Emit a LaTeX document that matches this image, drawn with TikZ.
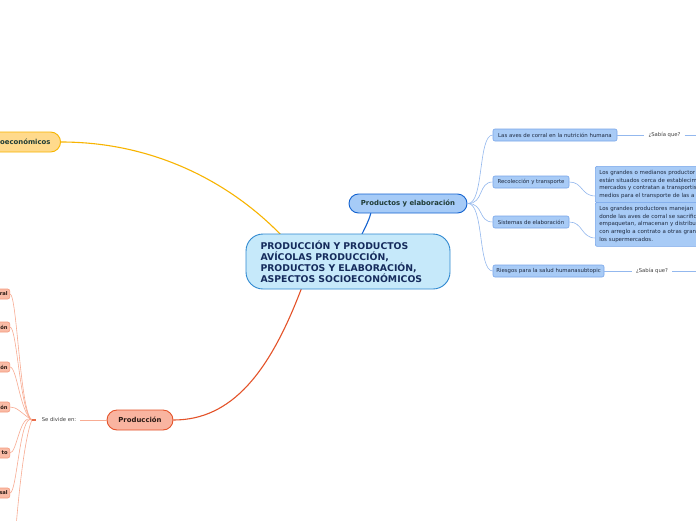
\documentclass[tikz,border=0pt]{standalone}
\usepackage{fontspec}
\setmainfont{DejaVu Sans}
\usetikzlibrary{backgrounds}
\definecolor{cFill}{HTML}{C6E9FA}
\definecolor{cBorder}{HTML}{2E88D0}
\definecolor{cText}{HTML}{152B5C}
\definecolor{yFill}{HTML}{FFDA8C}
\definecolor{yBorder}{HTML}{F7B500}
\definecolor{yLine}{HTML}{F8B400}
\definecolor{gText}{HTML}{1F3B35}
\definecolor{bFill}{HTML}{A6CBF7}
\definecolor{bBorder}{HTML}{1463D0}
\definecolor{rFill}{HTML}{F9B4A0}
\definecolor{rBorder}{HTML}{E4532A}
\definecolor{rText}{HTML}{2A1A14}
\definecolor{sFill}{HTML}{A8CBF6}
\definecolor{sBorder}{HTML}{78A6EA}
\definecolor{sText}{HTML}{1E2A40}
\definecolor{sLine}{HTML}{93B8EE}
\definecolor{lFill}{HTML}{F9BBA6}
\definecolor{lBorder}{HTML}{F59A7E}
\definecolor{lLine}{HTML}{F8AC93}
\tikzset{
  central/.style={draw=cBorder, fill=cFill, line width=0.9pt, rounded corners=17pt,
    minimum height=55pt, text width=175pt, inner xsep=14.5pt, align=left,
    font=\bfseries\fontsize{9.3}{11}\selectfont, text=cText},
  mainnode/.style={line width=0.9pt, font=\bfseries\fontsize{6.9}{8}\selectfont, inner sep=0pt},
  subnode/.style={draw=sBorder, fill=sFill, line width=0.6pt, rounded corners=2pt,
    minimum height=12pt, inner sep=0pt, font=\fontsize{5.4}{6}\selectfont, text=sText},
  textbox/.style={draw=sBorder, fill=sFill, line width=0.6pt, rounded corners=2pt,
    anchor=north west, text width=130pt, inner sep=4pt, align=left,
    font=\fontsize{5.5}{7.7}\selectfont, text=sText},
  leftnode/.style={draw=lBorder, fill=lFill, line width=0.6pt, rounded corners=2pt,
    anchor=east, minimum height=10pt, text width=60pt, align=right, inner xsep=2pt, inner ysep=0pt,
    font=\bfseries\fontsize{5.2}{6}\selectfont, text=rText},
  smalltext/.style={font=\fontsize{5.3}{6}\selectfont, text=black!75, inner sep=1pt},
  sline/.style={draw=sLine, line width=0.6pt},
  lline/.style={draw=lLine, line width=0.6pt},
}
\begin{document}
\begin{tikzpicture}[x=1pt,y=-1pt]
\useasboundingbox (0,0) rectangle (696,520);

% central node
\node[central] (center) at (348,261.5) {PRODUCCIÓN Y PRODUCTOS\\AVÍCOLAS PRODUCCIÓN,\\PRODUCTOS Y ELABORACIÓN,\\ASPECTOS SOCIOECONÓMICOS};

% yellow node (cut at the left edge)
\node[mainnode, draw=yBorder, fill=yFill, text=gText, rounded corners=10pt, minimum height=20pt,
  text width=70pt, align=right, inner xsep=10pt, anchor=east] (aspectos) at (61,142) {oeconómicos};

% productos node
\node[mainnode, draw=bBorder, fill=bFill, text=gText, rounded corners=9.5pt, minimum height=19pt,
  minimum width=118pt] (productos) at (408,203.5) {Productos y elaboración};

% produccion node
\node[mainnode, draw=rBorder, fill=rFill, text=rText, rounded corners=10pt, minimum height=20pt,
  minimum width=66pt, font=\bfseries\fontsize{6.9}{8}\selectfont] (produccion) at (140,420) {Producción};

\coordinate (cTopL) at (282,236);
\coordinate (cTopR) at (361,236);
\coordinate (cBot) at (302,287);
\coordinate (pB) at (371,212);

\begin{pgfonlayer}{background}
\fill[white] (0,0) rectangle (696,520);
\draw[draw=yLine, line width=1.1pt] (aspectos.east) .. controls (165,142) and (240,192) .. (cTopL);
\draw[draw=bBorder, line width=1.1pt] (cTopR) .. controls (366,226) and (370,218) .. (pB);
\draw[draw=rBorder, line width=1.1pt] (cBot) .. controls (270,372) and (232,420) .. (produccion.east);
\end{pgfonlayer}

% right sub nodes
\node[subnode, minimum width=124pt] (n1) at (555,135) {Las aves de corral en la nutrición humana};
\node[subnode, minimum width=76pt] (n2) at (531,182) {Recolección y transporte};
\node[subnode, minimum width=76pt] (n3) at (531,222) {Sistemas de elaboración};
\node[subnode, minimum width=111pt] (n4) at (548.5,271) {Riesgos para la salud humanasubtopic};

\coordinate (pR) at (468,203.5);
\foreach \n in {n1,n2,n3,n4}{
  \draw[sline] (pR) .. controls (484,203.5) and (478,0 |- \n.west) .. (\n.west);
}

% sabia que
\node[smalltext] (s1) at (664.5,135) {¿Sabía que?};
\node[smalltext] (s2) at (652,271) {¿Sabía que?};
\coordinate (e1) at (700,135);
\coordinate (e2) at (700,271);
\draw[sline] (n1.east) -- ([xshift=-3pt]s1.west);
\draw[sline] ([xshift=3pt]s1.east) -- (e1);
\draw[sline] (n4.east) -- ([xshift=-3pt]s2.west);
\draw[sline] ([xshift=3pt]s2.east) -- (e2);

% text boxes (cut at the right edge)
\node[textbox, minimum height=33pt] (t1) at (595,166) {Los grandes o medianos productor\\están situados cerca de establecim\\mercados y contratan a transportis\\medios para el transporte de las a};
\node[textbox, minimum height=40pt] (t2) at (595,202) {Los grandes productores manejan\\donde las aves de corral se sacrific\\empaquetan, almacenan y distribu\\con arreglo a contrato a otras gran\\los supermercados.};
\coordinate (t1in) at (595.5,196);
\coordinate (t2in) at (595.5,238);
\draw[sline] (n2.east) .. controls (583,182) and (581,196) .. (t1in);
\draw[sline] (n3.east) .. controls (583,222) and (581,238) .. (t2in);

% left branch
\node[smalltext] (divide) at (59,420) {Se divide en:};
\draw[lline] ([xshift=3pt]divide.east) -- (produccion.west);
\node[fill=rBorder!85, minimum width=4pt, minimum height=1.6pt, inner sep=0pt] (hub) at (34,420) {};

\node[leftnode] (l1) at (10,294) {ral};
\node[leftnode] (l2) at (10,327) {ón};
\node[leftnode] (l3) at (10,367) {ón};
\node[leftnode] (l4) at (10,407) {ón};
\node[leftnode] (l5) at (10,453) {to};
\node[leftnode] (l6) at (10,493) {sal};
\coordinate (l7) at (15,540);

\begin{pgfonlayer}{background}
\foreach \n in {l1,l2,l3,l4,l5,l6}{
  \draw[lline] (\n.east) .. controls (17,0 |- \n.east) and (20,412) .. (hub.west);
}
\draw[lline] (hub.west) .. controls (24,440) and (18,500) .. (l7);
\end{pgfonlayer}
\end{tikzpicture}
\end{document}
